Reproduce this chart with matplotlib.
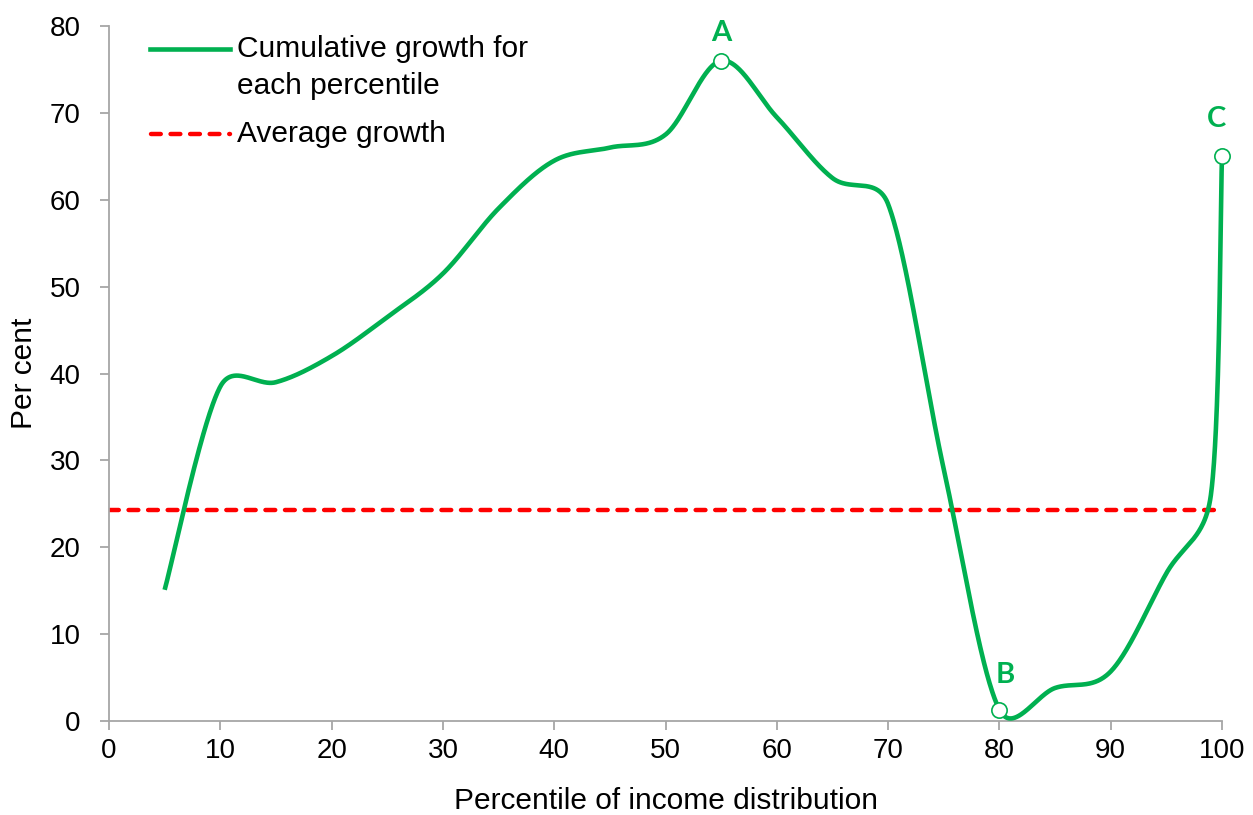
import numpy as np
import matplotlib
matplotlib.use("Agg")
import matplotlib.pyplot as plt
from matplotlib.lines import Line2D

# ---- data ----
percentiles = [5, 10, 15, 20, 25, 30, 35, 40, 45, 50, 55, 60, 65, 70, 75, 80, 85, 90, 95, 99, 100]
growth = [15.1, 38.5, 39.0, 42.0, 46.5, 51.5, 59.0, 64.5, 66.0, 67.5, 76.0, 69.5, 62.5, 59.5,
          29.0, 1.3, 3.8, 5.7, 17.0, 26.0, 65.0]
average_growth = 24.3
highlight_labels = ["A", "B", "C"]
highlight_x = [55, 80, 100]
x_ticks = list(range(0, 101, 10))
y_ticks = list(range(0, 81, 10))

GREEN = "#00B050"
RED = "#FF0000"
GREY = "#A6A6A6"
plt.rcParams["font.family"] = ["Liberation Sans", "DejaVu Sans"]

W, H = 1253, 815
AX_L, AX_R, AX_B, AX_T = 109, 1222, 721, 26
SX = (AX_R - AX_L) / 100.0   # px per x unit
SY = (AX_B - AX_T) / 80.0    # px per y unit


def excel_smooth(xs, ys, n=80):
    """Excel-style smoothed line: Bezier segments with Catmull-Rom tangents,
    limited to half the segment length (in screen space)."""
    P = np.column_stack([np.asarray(xs, float) * SX, np.asarray(ys, float) * SY])
    out = []
    m = len(P)
    for i in range(m - 1):
        p0 = P[i - 1] if i > 0 else P[i]
        p1 = P[i]
        p2 = P[i + 1]
        p3 = P[i + 2] if i + 2 < m else P[i + 1]
        half = np.linalg.norm(p2 - p1) / 2.0
        v1 = (p2 - p0) / 6.0
        v2 = (p3 - p1) / 6.0
        n1, n2 = np.linalg.norm(v1), np.linalg.norm(v2)
        if n1 > half:
            v1 *= half / n1
        if n2 > half:
            v2 *= half / n2
        c1 = p1 + v1
        c2 = p2 - v2
        t = np.linspace(0, 1, n)[:, None]
        seg = ((1 - t) ** 3) * p1 + 3 * ((1 - t) ** 2) * t * c1 + 3 * (1 - t) * t ** 2 * c2 + t ** 3 * p2
        out.append(seg if i == 0 else seg[1:])
    out = np.vstack(out)
    return out[:, 0] / SX, out[:, 1] / SY


fig = plt.figure(figsize=(W / 100, H / 100), dpi=100)
ax = fig.add_axes([AX_L / W, 1 - AX_B / H, (AX_R - AX_L) / W, (AX_B - AX_T) / H])

sx, sy = excel_smooth(percentiles, growth)
ax.plot(sx, sy, color=GREEN, lw=3.3, solid_capstyle="butt", zorder=3, clip_on=False)
ax.plot([0, 100], [average_growth, average_growth], color=RED, lw=3.2,
        dashes=(2.2, 2.2), dash_capstyle="round", zorder=2)

for lab, hx in zip(highlight_labels, highlight_x):
    hy = growth[percentiles.index(hx)]
    ax.plot([hx], [hy], marker="o", ms=11, mfc="white", mec=GREEN, mew=1.2, zorder=4, clip_on=False)

label_offsets = {"A": (0, 3.2), "B": (0.5, 4.0), "C": (-0.5, 4.3)}
for lab, hx in zip(highlight_labels, highlight_x):
    hy = growth[percentiles.index(hx)]
    dx, dy = label_offsets[lab]
    ax.text(hx + dx, hy + dy, lab, color=GREEN, fontsize=21, fontweight="bold",
            family=["Lato", "DejaVu Sans"], ha="center", va="center")

ax.set_xlim(0, 100)
ax.set_ylim(0, 80)
ax.set_xticks(x_ticks)
ax.set_yticks(y_ticks)
for s in ["top", "right"]:
    ax.spines[s].set_visible(False)
for s in ["left", "bottom"]:
    ax.spines[s].set_color(GREY)
    ax.spines[s].set_linewidth(1.3)
ax.tick_params(axis="both", direction="out", length=6.5, width=1.3, color=GREY,
               labelsize=20, labelcolor="black")
ax.tick_params(axis="x", pad=6)
ax.tick_params(axis="y", pad=14)

ax.set_xlabel("Percentile of income distribution", fontsize=21.5, labelpad=16)
ax.set_ylabel("Per cent", fontsize=21.5, labelpad=8)

# legend (Excel-style: handle aligned with first text line)
def fx(px):
    return px / W

def fy(py):
    return 1 - py / H

fig.add_artist(Line2D([fx(150), fx(230)], [fy(49), fy(49)], color=GREEN, lw=3.3,
                      transform=fig.transFigure))
fig.add_artist(Line2D([fx(151), fx(230)], [fy(134), fy(134)], color=RED, lw=3.2,
                      dashes=(2.2, 2.2), dash_capstyle="round", transform=fig.transFigure))
fig.text(fx(237), fy(49), "Cumulative growth for", fontsize=21.5, va="center", ha="left")
fig.text(fx(237), fy(86), "each percentile", fontsize=21.5, va="center", ha="left")
fig.text(fx(237), fy(134), "Average growth", fontsize=21.5, va="center", ha="left")

fig.savefig("out.png", dpi=100)
